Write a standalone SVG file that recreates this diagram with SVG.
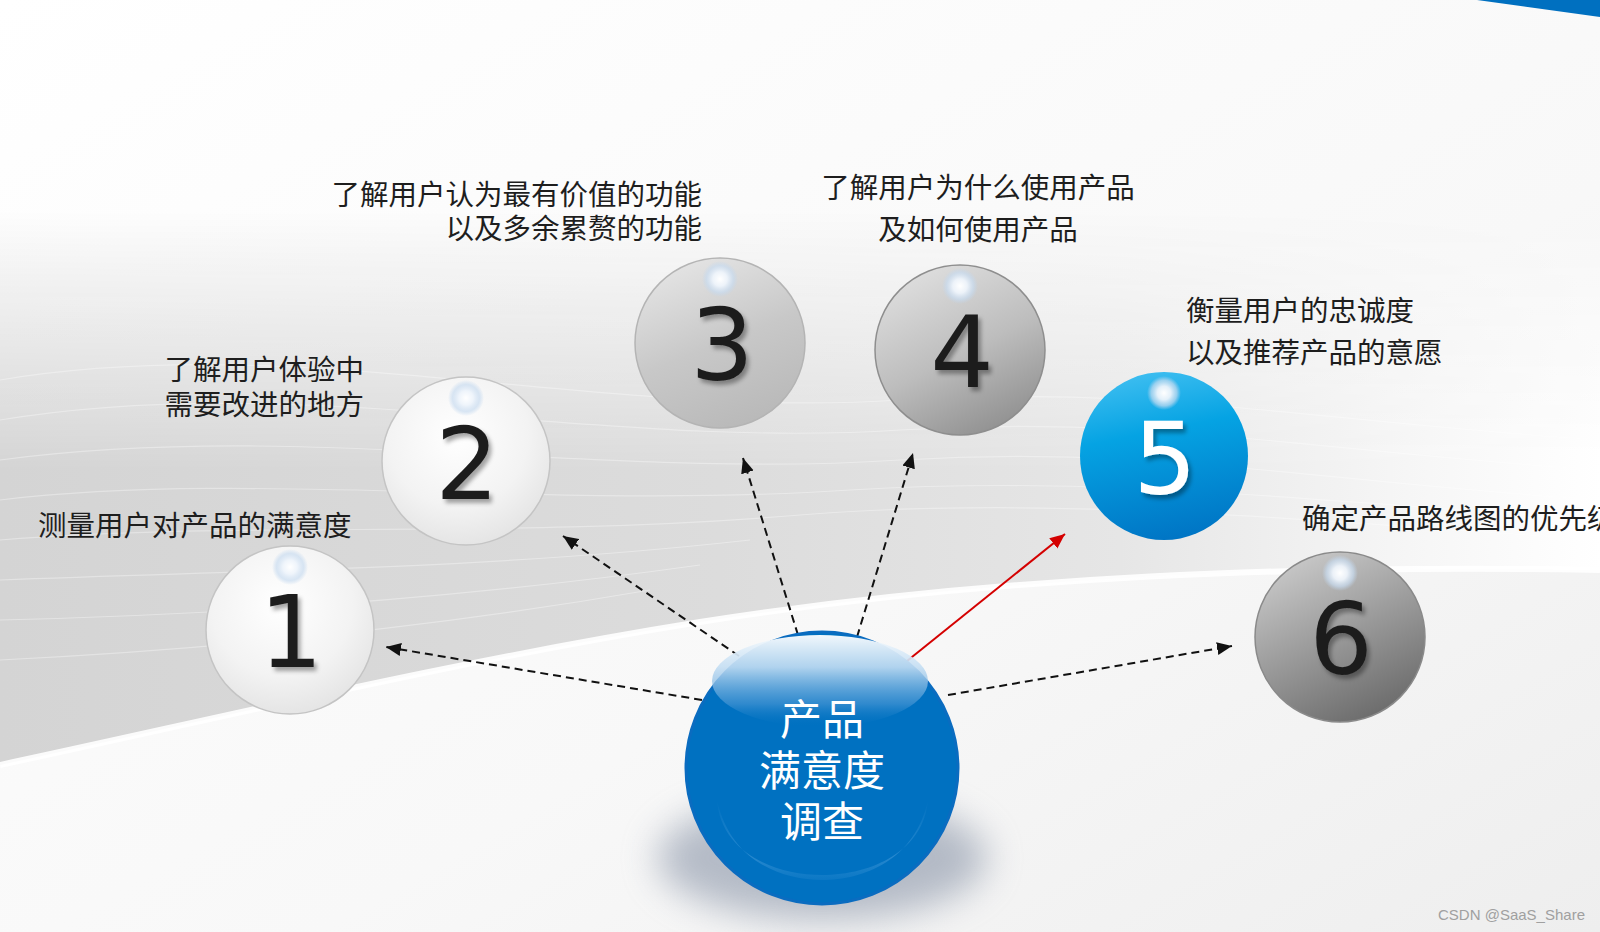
<svg xmlns="http://www.w3.org/2000/svg" width="1600" height="932" viewBox="0 0 1600 932">
<defs>
<style>
.lbl{font-family:"Noto Sans CJK SC","Noto Sans",sans-serif;font-size:28.5px;fill:#1e1e1e}
.num{font-family:"DejaVu Sans","Liberation Sans",sans-serif;font-size:100px;text-anchor:middle;fill:#1c1c1c}
.ctr{font-family:"Noto Sans CJK SC","Noto Sans",sans-serif;font-size:42px;fill:#ffffff;text-anchor:middle}
.dash{fill:none;stroke:#111;stroke-width:2;stroke-dasharray:8 5}
.wave{fill:none;stroke:#ffffff;stroke-width:1.2;opacity:0.35}
</style>
<linearGradient id="bandH" x1="0" y1="0" x2="1600" y2="0" gradientUnits="userSpaceOnUse">
<stop offset="0" stop-color="#d4d4d4"/>
<stop offset="0.45" stop-color="#dcdcdc"/>
<stop offset="0.7" stop-color="#e6e6e6"/>
<stop offset="0.88" stop-color="#f6f6f6"/>
<stop offset="1" stop-color="#ffffff"/>
</linearGradient>
<linearGradient id="fadeV" x1="0" y1="210" x2="0" y2="470" gradientUnits="userSpaceOnUse">
<stop offset="0" stop-color="#000"/>
<stop offset="1" stop-color="#fff"/>
</linearGradient>
<mask id="bandMask" maskUnits="userSpaceOnUse" x="0" y="0" width="1600" height="932">
<rect x="0" y="0" width="1600" height="932" fill="url(#fadeV)"/>
</mask>
<linearGradient id="lowBg" x1="0" y1="0" x2="1" y2="1">
<stop offset="0" stop-color="#ffffff"/>
<stop offset="0.6" stop-color="#f8f8f8"/>
<stop offset="1" stop-color="#eeeeee"/>
</linearGradient>
<radialGradient id="gWhite" cx="0.45" cy="0.35" r="0.7">
<stop offset="0" stop-color="#ffffff"/>
<stop offset="0.6" stop-color="#f3f3f3"/>
<stop offset="1" stop-color="#e2e2e2"/>
</radialGradient>
<linearGradient id="g3" x1="0.3" y1="0" x2="0.7" y2="1">
<stop offset="0" stop-color="#e4e4e4"/>
<stop offset="0.5" stop-color="#c8c8c8"/>
<stop offset="1" stop-color="#b8b8b8"/>
</linearGradient>
<linearGradient id="g4" x1="0.3" y1="0" x2="0.8" y2="1">
<stop offset="0" stop-color="#dedede"/>
<stop offset="0.5" stop-color="#bdbdbd"/>
<stop offset="1" stop-color="#8c8c8c"/>
</linearGradient>
<linearGradient id="g6" x1="0.3" y1="0" x2="0.8" y2="1">
<stop offset="0" stop-color="#c8c8c8"/>
<stop offset="0.45" stop-color="#9c9c9c"/>
<stop offset="1" stop-color="#666666"/>
</linearGradient>
<linearGradient id="g5" x1="0.4" y1="0" x2="0.6" y2="1">
<stop offset="0" stop-color="#3cbdf0"/>
<stop offset="0.35" stop-color="#05a3e3"/>
<stop offset="1" stop-color="#0074c4"/>
</linearGradient>
<radialGradient id="glow" cx="0.5" cy="0.5" r="0.5">
<stop offset="0" stop-color="#ffffff"/>
<stop offset="0.4" stop-color="#eef4fb" stop-opacity="0.95"/>
<stop offset="0.75" stop-color="#c9dcf0" stop-opacity="0.7"/>
<stop offset="1" stop-color="#c0d6ee" stop-opacity="0"/>
</radialGradient>
<linearGradient id="gloss" x1="0" y1="0" x2="0" y2="1">
<stop offset="0" stop-color="#f6fafd" stop-opacity="0.98"/>
<stop offset="0.35" stop-color="#c4def3" stop-opacity="0.9"/>
<stop offset="0.75" stop-color="#4f9ad6" stop-opacity="0.6"/>
<stop offset="1" stop-color="#0071c1" stop-opacity="0"/>
</linearGradient>
<linearGradient id="refl" x1="0" y1="0" x2="0" y2="1">
<stop offset="0" stop-color="#4d9fdc" stop-opacity="0"/>
<stop offset="0.7" stop-color="#4d9fdc" stop-opacity="0.5"/>
<stop offset="1" stop-color="#4d9fdc" stop-opacity="0.15"/>
</linearGradient>
<clipPath id="cClip"><circle cx="822" cy="768" r="135"/></clipPath>
<filter id="blur" x="-50%" y="-50%" width="200%" height="200%"><feGaussianBlur stdDeviation="18"/></filter>
<filter id="dsh" x="-30%" y="-30%" width="160%" height="160%"><feDropShadow dx="3" dy="4" stdDeviation="2.2" flood-color="#000" flood-opacity="0.35"/></filter>
<marker id="ah" markerUnits="userSpaceOnUse" markerWidth="16" markerHeight="14" refX="15" refY="6.5" orient="auto"><path d="M0,0 L15,6.5 L0,13 z" fill="#111"/></marker>
<marker id="ahr" markerUnits="userSpaceOnUse" markerWidth="16" markerHeight="14" refX="15" refY="6.5" orient="auto"><path d="M0,0 L15,6.5 L0,13 z" fill="#d40000"/></marker>
</defs>

<g id="background">
<rect x="0" y="0" width="1600" height="932" fill="url(#lowBg)"/>
<path d="M0,200 L1600,200 L1600,570 C1300,565 1000,575 700,622 C450,662 220,718 0,765 Z" fill="url(#bandH)" mask="url(#bandMask)"/>
<path d="M0,765 C220,718 450,662 700,622 C1000,575 1300,565 1600,570" fill="none" stroke="#ffffff" stroke-width="6" opacity="0.9"/>
<path class="wave" d="M0,380 C300,330 600,420 900,400 C1150,385 1300,420 1600,440"/>
<path class="wave" d="M0,420 C300,370 600,450 900,430 C1150,415 1300,450 1600,470"/>
<path class="wave" d="M0,460 C300,420 600,480 900,460 C1150,445 1300,480 1600,500"/>
<path class="wave" d="M0,500 C250,470 550,510 850,490 C1100,475 1300,500 1600,520"/>
<path class="wave" d="M0,540 C250,520 500,540 800,515 C1050,495 1300,520 1600,540"/>
<path class="wave" d="M0,580 C250,570 480,570 750,540"/>
<path class="wave" d="M0,620 C220,615 450,600 700,565"/>
<path class="wave" d="M0,660 C200,650 420,630 650,590"/>
<polygon points="1477,0 1600,0 1600,17" fill="#0070c0"/>
</g>

<g id="connectors">
<line class="dash" x1="702" y1="700" x2="386" y2="647" marker-end="url(#ah)"/>
<line class="dash" x1="739" y1="656" x2="563" y2="536" marker-end="url(#ah)"/>
<line class="dash" x1="798" y1="635" x2="743" y2="458" marker-end="url(#ah)"/>
<line class="dash" x1="857" y1="637" x2="913" y2="453" marker-end="url(#ah)"/>
<line x1="907" y1="661" x2="1065" y2="534" stroke="#d40000" stroke-width="2" marker-end="url(#ahr)"/>
<line class="dash" x1="948" y1="695" x2="1232" y2="646" marker-end="url(#ah)"/>
</g>

<g id="node1">
<circle cx="290" cy="630" r="84" fill="url(#gWhite)" stroke="#c4c4c4" stroke-width="1.5"/>
<circle cx="290" cy="567" r="18" fill="url(#glow)"/>
<text class="num" x="291" y="667" filter="url(#dsh)">1</text>
<text class="lbl" x="38" y="536">测量用户对产品的满意度</text>
</g>

<g id="node2">
<circle cx="466" cy="461" r="84" fill="url(#gWhite)" stroke="#c4c4c4" stroke-width="1.5"/>
<circle cx="466" cy="398" r="18" fill="url(#glow)"/>
<text class="num" x="467" y="499" filter="url(#dsh)">2</text>
<text class="lbl" x="364" y="380" text-anchor="end">了解用户体验中</text>
<text class="lbl" x="364" y="415" text-anchor="end">需要改进的地方</text>
</g>

<g id="node3">
<circle cx="720" cy="343" r="85" fill="url(#g3)" stroke="#b4b4b4" stroke-width="1.5"/>
<circle cx="720" cy="279" r="18" fill="url(#glow)"/>
<text class="num" x="722" y="380" filter="url(#dsh)">3</text>
<text class="lbl" x="702" y="205" text-anchor="end">了解用户认为最有价值的功能</text>
<text class="lbl" x="702" y="239" text-anchor="end">以及多余累赘的功能</text>
</g>

<g id="node4">
<circle cx="960" cy="350" r="85" fill="url(#g4)" stroke="#8e8e8e" stroke-width="1.5"/>
<circle cx="960" cy="286" r="18" fill="url(#glow)"/>
<text class="num" x="962" y="387" filter="url(#dsh)">4</text>
<text class="lbl" x="978" y="198" text-anchor="middle">了解用户为什么使用产品</text>
<text class="lbl" x="978" y="240" text-anchor="middle">及如何使用产品</text>
</g>

<g id="node5">
<circle cx="1164" cy="456" r="84" fill="url(#g5)"/>
<circle cx="1164" cy="393" r="17" fill="url(#glow)"/>
<text class="num" x="1165" y="494" style="fill:#ffffff" filter="url(#dsh)">5</text>
<text class="lbl" x="1186" y="321">衡量用户的忠诚度</text>
<text class="lbl" x="1186" y="363">以及推荐产品的意愿</text>
</g>

<g id="node6">
<circle cx="1340" cy="637" r="85" fill="url(#g6)" stroke="#8a8a8a" stroke-width="1.5"/>
<circle cx="1340" cy="573" r="18" fill="url(#glow)"/>
<text class="num" x="1341" y="674" filter="url(#dsh)">6</text>
<text class="lbl" x="1302" y="529">确定产品路线图的优先级</text>
</g>

<g id="center">
<ellipse cx="822" cy="858" rx="165" ry="62" fill="#7f8ba0" opacity="0.55" filter="url(#blur)"/>
<circle cx="822" cy="768" r="136" fill="#0071c1" stroke="#0a6cc0" stroke-width="3"/>
<ellipse cx="820" cy="681" rx="108" ry="46" fill="url(#gloss)"/>
<g clip-path="url(#cClip)">
<path d="M717,800 C730,860 780,880 822,880 C864,880 915,860 928,800 C920,900 724,900 717,800 Z" fill="url(#refl)"/>
</g>
<text class="ctr" x="822" y="735">产品</text>
<text class="ctr" x="822" y="786">满意度</text>
<text class="ctr" x="822" y="837">调查</text>
</g>

<text x="1585" y="920" text-anchor="end" font-family="Liberation Sans, Arial, sans-serif" font-size="15" fill="#a0a0a0">CSDN @SaaS_Share</text>
</svg>
